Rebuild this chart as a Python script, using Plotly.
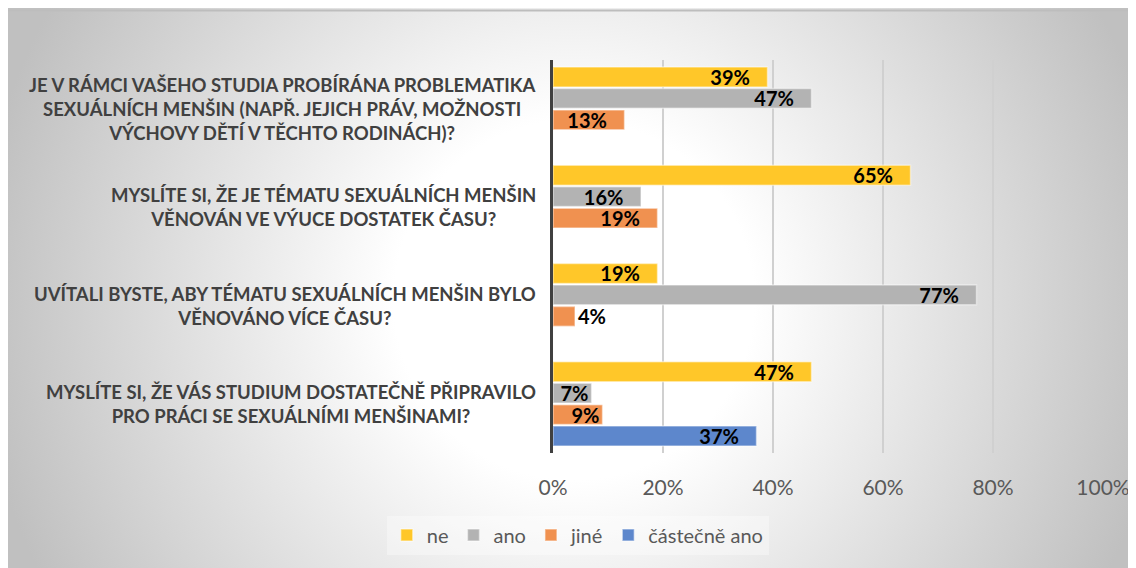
import base64
import plotly.graph_objects as go

# ---- data ----
categories = [
    "JE V RÁMCI VAŠEHO STUDIA PROBÍRÁNA PROBLEMATIKA<br>SEXUÁLNÍCH MENŠIN (NAPŘ. JEJICH PRÁV, MOŽNOSTI<br>VÝCHOVY DĚTÍ V TĚCHTO RODINÁCH)?",
    "MYSLÍTE SI, ŽE JE TÉMATU SEXUÁLNÍCH MENŠIN<br>VĚNOVÁN VE VÝUCE DOSTATEK ČASU?",
    "UVÍTALI BYSTE, ABY TÉMATU SEXUÁLNÍCH MENŠIN BYLO<br>VĚNOVÁNO VÍCE ČASU?",
    "MYSLÍTE SI, ŽE VÁS STUDIUM DOSTATEČNĚ PŘIPRAVILO<br>PRO PRÁCI SE SEXUÁLNÍMI MENŠINAMI?",
]
series_names = ["ne", "ano", "jiné", "částečně ano"]
ne = [39, 65, 19, 47]
ano = [47, 16, 77, 7]
jine = [13, 19, 4, 9]
castecne_ano = [None, None, None, 37]
x_ticks = [0, 20, 40, 60, 80, 100]
x_tick_labels = ["0%", "20%", "40%", "60%", "80%", "100%"]

colors = ["#FFC729", "#B3B3B3", "#F09150", "#5D87CC"]
all_values = [ne, ano, jine, castecne_ano]

NBSP = "\u00a0"
FONT = "Lato"

W, H = 1136, 568
L, R, T, B = 545, 41, 52, 123
PW, PH = W - L - R, H - T - B

fig = go.Figure()
for name, vals, col in zip(series_names, all_values, colors):
    texts = []
    positions = []
    for v in vals:
        if v is None:
            texts.append("")
            positions.append("none")
            continue
        pad = NBSP * 3 if v >= 10 else ""
        texts.append(f"{v}%{pad}")
        positions.append("outside" if v < 5 else "inside")
    fig.add_trace(go.Bar(
        name=name,
        y=categories,
        x=vals,
        orientation="h",
        marker=dict(color=col, line=dict(color="rgba(255,255,255,0.45)", width=1.5)),
        text=texts,
        textposition=positions,
        insidetextanchor="end",
        constraintext="none",
        textfont=dict(family=FONT, size=20, color="#000000", weight="bold"),
        cliponaxis=False,
        hoverinfo="skip",
    ))

# category labels (centred lines, right-aligned block)
for cat in categories:
    fig.add_annotation(
        x=-15 / PW, xref="paper", y=cat, yref="y",
        text=cat, showarrow=False,
        xanchor="right", yanchor="middle", align="center",
        font=dict(family=FONT, size=18.5, color="#404040", weight="bold"),
    )

# radial gradient background (styling only)
svg = (
    '<svg xmlns="http://www.w3.org/2000/svg" width="1136" height="568" viewBox="0 0 1136 568" preserveAspectRatio="none">'
    '<defs><radialGradient id="g" gradientUnits="userSpaceOnUse" cx="566" cy="292" r="600">'
    '<stop offset="0" stop-color="#ffffff"/><stop offset="0.3" stop-color="#ffffff"/>'
    '<stop offset="1" stop-color="#c0c0c0"/></radialGradient></defs>'
    '<rect x="0" y="0" width="1136" height="568" fill="url(#g)"/>'
    '<line x1="0" y1="2.5" x2="1136" y2="2.5" stroke="#bdbdbd" stroke-width="2"/>'
    '</svg>'
)
src = "data:image/svg+xml;base64," + base64.b64encode(svg.encode("utf-8")).decode("ascii")
fig.add_layout_image(
    source=src, xref="paper", yref="paper",
    x=-L / PW, y=(PH + T) / PH,
    sizex=W / PW, sizey=H / PH,
    xanchor="left", yanchor="top", sizing="stretch", layer="below",
)

fig.update_layout(
    width=W, height=H,
    margin=dict(l=L, r=R, t=T, b=B),
    paper_bgcolor="#ffffff",
    plot_bgcolor="rgba(0,0,0,0)",
    barmode="group",
    bargap=0.125,
    bargroupgap=0.07,
    showlegend=True,
    legend=dict(
        orientation="h", x=0.045, xanchor="center", y=-82 / PH, yanchor="middle",
        font=dict(family=FONT, size=20, color="#595959"),
        bgcolor="rgba(255,255,255,0.35)",
        itemwidth=30, traceorder="normal",
    ),
    xaxis=dict(
        range=[0, 100], tickvals=x_ticks, ticktext=x_tick_labels,
        showgrid=True, gridcolor="#D0D0D0", gridwidth=1.5,
        zeroline=False, showline=False, ticks="",
        tickfont=dict(family=FONT, size=21, color="#595959"),
        ticklabelstandoff=20,
    ),
    yaxis=dict(
        autorange="reversed", showticklabels=False, showgrid=False,
        zeroline=False, showline=True, linecolor="#404040", linewidth=3,
        ticks="",
    ),
    font=dict(family=FONT),
    hovermode=False,
)

fig.write_html("out.html")
